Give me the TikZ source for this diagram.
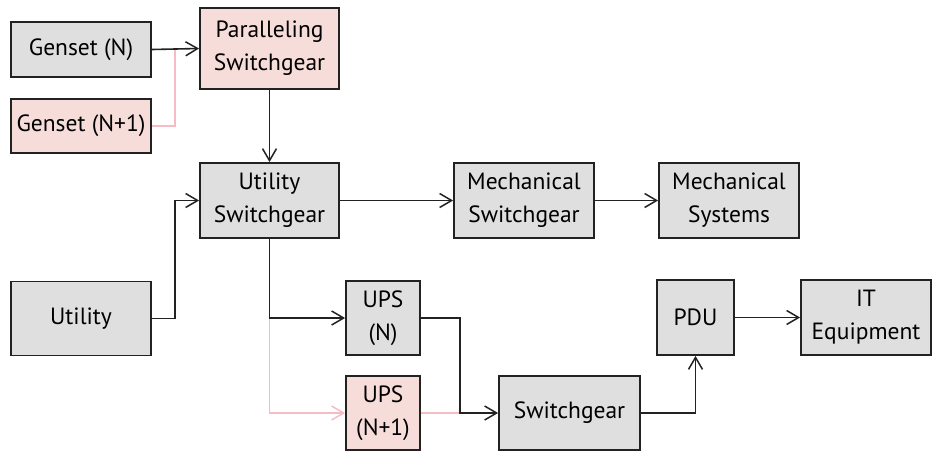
\documentclass[tikz,border=0pt]{standalone}
\usepackage{fontspec}
\setmainfont{PT Sans}
\usetikzlibrary{arrows.meta}
\definecolor{boxgray}{HTML}{DFDFDF}
\definecolor{boxpink}{HTML}{F7DDDA}
\definecolor{linepink}{HTML}{F6BCC4}
\definecolor{edge}{HTML}{222222}
\tikzset{
  blk/.style={draw=edge, line width=1.8pt, fill=boxgray, align=center, inner sep=0pt,
    font=\fontsize{23.5}{33}\selectfont, text=black},
  pblk/.style={blk, fill=boxpink},
  conn/.style={draw=edge, line width=1.6pt, -{Straight Barb[length=12pt,width=14pt,line width=1.5pt]}},
  pconn/.style={conn, draw=linepink},
  pline/.style={draw=linepink, line width=1.6pt},
}
\begin{document}
\begin{tikzpicture}[x=1pt,y=-1pt]
\useasboundingbox (0,0) rectangle (932,453);
\node[blk, minimum width=140, minimum height=55] (gN) at (81,49.5) {Genset (N)};
\node[pblk, minimum width=140, minimum height=54] (gN1) at (81,126) {Genset (N+1)};
\node[pblk, minimum width=139, minimum height=81] (par) at (269.5,48.5) {Paralleling\\Switchgear};
\node[blk, minimum width=139, minimum height=75] (usw) at (269.5,200.5) {Utility\\Switchgear};
\node[blk, minimum width=140, minimum height=74] (util) at (81,318.5) {Utility};
\node[blk, minimum width=140, minimum height=75] (msw) at (524,200.5) {Mechanical\\Switchgear};
\node[blk, minimum width=140, minimum height=75] (msys) at (729,200.5) {Mechanical\\Systems};
\node[blk, minimum width=74, minimum height=74] (upsN) at (383,318) {UPS\\(N)};
\node[pblk, minimum width=74, minimum height=74] (upsN1) at (383,413) {UPS\\(N+1)};
\node[blk, minimum width=141, minimum height=74] (sw) at (569.5,413) {Switchgear};
\node[blk, minimum width=77, minimum height=75] (pdu) at (695.5,317.5) {PDU};
\node[blk, minimum width=130, minimum height=75] (it) at (866,317.5) {IT\\Equipment};

\coordinate (j1) at (175,49.5);
\coordinate (j2) at (460,413);
\coordinate (j3) at (269.5,318);
% pink lines first
\draw[pline] (gN1.east) -- (175,126) -- (j1);
\draw[pconn] (j3) -- (269.5,413) -- (upsN1.west);
\draw[pline] (upsN1.east) -- (j2);
% black
\draw[conn] (gN.east) -- (par.west);
\draw[conn] (par.south) -- (usw.north);
\draw[conn] (util.east) -- (175,318.5) -- (175,200.5) -- (usw.west);
\draw[conn] (usw.east) -- (msw.west);
\draw[conn] (msw.east) -- (msys.west);
\draw[conn] (usw.south) -- (j3) -- (upsN.west);
\draw[conn] (upsN.east) -- (460,318) -- (j2) -- (sw.west);
\draw[conn] (sw.east) -- (695.5,413) -- (pdu.south);
\draw[conn] (pdu.east) -- (it.west);
\end{tikzpicture}
\end{document}
